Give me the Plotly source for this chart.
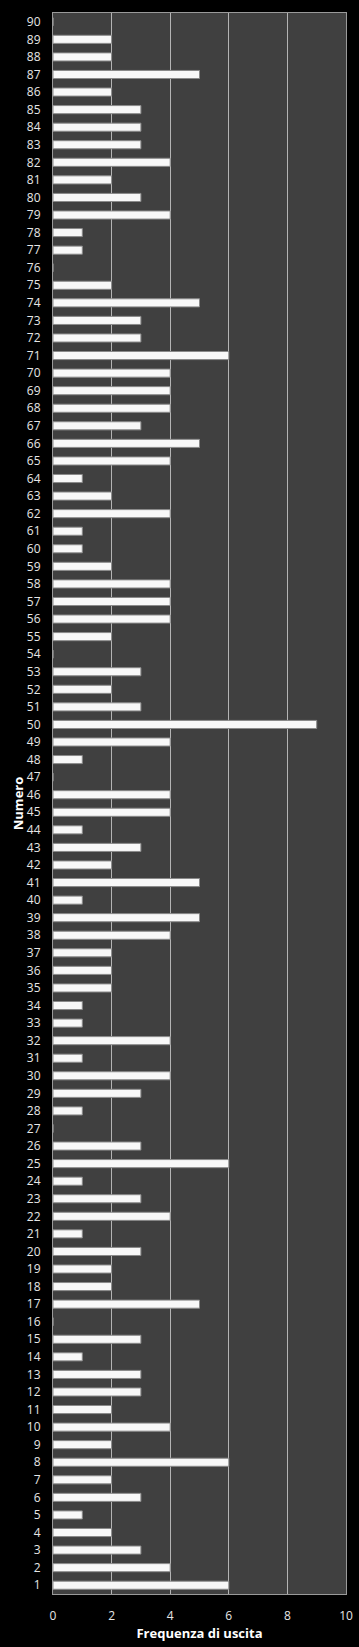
import plotly.graph_objects as go

numbers = list(range(1, 91))
frequencies = [
    6, 4, 3, 2, 1, 3, 2, 6, 2, 4,      # 1-10
    2, 3, 3, 1, 3, 0, 5, 2, 2, 3,      # 11-20
    1, 4, 3, 1, 6, 3, 0, 1, 3, 4,      # 21-30
    1, 4, 1, 1, 2, 2, 2, 4, 5, 1,      # 31-40
    5, 2, 3, 1, 4, 4, 0, 1, 4, 9,      # 41-50
    3, 2, 3, 0, 2, 4, 4, 4, 2, 1,      # 51-60
    1, 4, 2, 1, 4, 5, 3, 4, 4, 4,      # 61-70
    6, 3, 3, 5, 2, 0, 1, 1, 4, 3,      # 71-80
    2, 4, 3, 3, 3, 2, 5, 2, 2, 0,      # 81-90
]
x_ticks = [0, 2, 4, 6, 8, 10]

font_family = "Open Sans, Liberation Sans, sans-serif"

fig = go.Figure()
fig.add_trace(go.Bar(
    x=frequencies,
    y=numbers,
    orientation="h",
    width=0.46,
    marker=dict(color="#f8f8f8", line=dict(color="#8a8a8a", width=1)),
    hoverinfo="x+y",
))

fig.update_layout(
    width=359,
    height=1647,
    margin=dict(l=53, r=13, t=13, b=53, autoexpand=False),
    paper_bgcolor="#000000",
    plot_bgcolor="#404040",
    showlegend=False,
    font=dict(family=font_family, color="#e6e6e6", size=12),
)

fig.update_xaxes(
    range=[0, 10],
    tickvals=x_ticks,
    ticktext=[str(v) for v in x_ticks],
    showgrid=True,
    gridcolor="#b4b4b4",
    gridwidth=1,
    zeroline=False,
    showline=True,
    mirror=True,
    linecolor="#9a9a9a",
    ticks="",
    ticklabelstandoff=11,
    tickfont=dict(size=12, color="#e6e6e6"),
    title=dict(text="<b>Frequenza di uscita</b>", font=dict(size=13, color="#ffffff"), standoff=3),
)

fig.update_yaxes(
    range=[0.5, 90.5],
    tickvals=numbers,
    ticktext=[str(n) for n in numbers],
    showgrid=False,
    zeroline=False,
    showline=True,
    mirror=True,
    linecolor="#9a9a9a",
    ticks="",
    ticklabelstandoff=9,
    tickfont=dict(size=12, color="#e6e6e6"),
    title=dict(text="<b>Numero</b>", font=dict(size=13, color="#ffffff"), standoff=0),
)

fig.write_html("out.html")
